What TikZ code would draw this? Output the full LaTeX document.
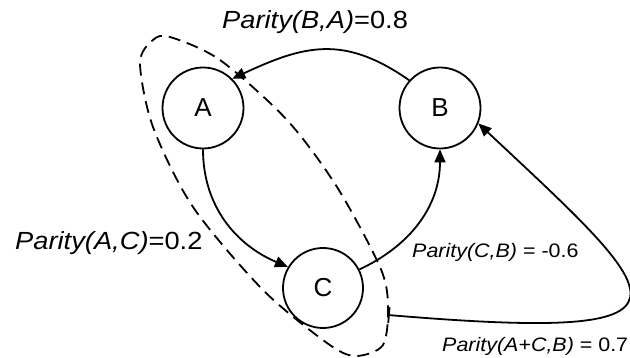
\documentclass[tikz,border=0pt]{standalone}
\usepackage{fontspec}
\setmainfont{Liberation Sans}
\usetikzlibrary{arrows.meta}
\begin{document}
\begin{tikzpicture}[x=1pt,y=1pt,
  state/.style={circle,draw,line width=1.8pt,minimum size=81pt,inner sep=0pt,font=\fontsize{26}{30}\selectfont},
  bigLab/.style={inner sep=0pt,anchor=base west,xscale=1.1,font=\fontsize{24.8}{28}\selectfont},
  smallLab/.style={inner sep=0pt,anchor=base west,xscale=1.1,font=\fontsize{19.5}{23}\selectfont},
  conn/.style={line width=1.8pt,-{Triangle[length=13pt,width=11pt]}},
  group/.style={line width=1.8pt,dash pattern=on 12pt off 7pt}]
\useasboundingbox (0,0) rectangle (630,358);
\fill[white] (0,0) rectangle (630,358);
\node[state] (A) at (203,250) {A};
\node[state] (B) at (440,250) {B};
\node[state,minimum size=80pt] (C) at (323,70) {C};
\coordinate (ac) at (388,43);
\draw[group] plot[smooth cycle] coordinates {(170,321) (220,298) (287,238) (337,171) (380,91) (388,53) (383,13) (355,2) (327,15) (263,68) (193,151) (153,231) (140,295) (153,318)};
\draw[conn] (B.138) to[out=145,in=25,looseness=1.15] (A.45);
\draw[conn] (A.south) to[out=-90,in=157] (C.149);
\draw[conn] (C.27) to[out=25,in=-90] (B.south);
\draw[line width=1.8pt,{Bar[width=16pt]}-{Triangle[length=13pt,width=11pt]}] (ac) .. controls (720,15) and (668,57) .. (B.-22);
\node[bigLab] (lBA) at (222,329.7) {\textit{Parity(B,A)}=0.8};
\node[bigLab] (lAC) at (15,108) {\textit{Parity(A,C)}=0.2};
\node[smallLab] (lCB) at (412,100) {\textit{Parity(C,B)} = -0.6};
\node[smallLab] (lACB) at (442,6.3) {\textit{Parity(A+C,B)} = 0.7};
\end{tikzpicture}
\end{document}
